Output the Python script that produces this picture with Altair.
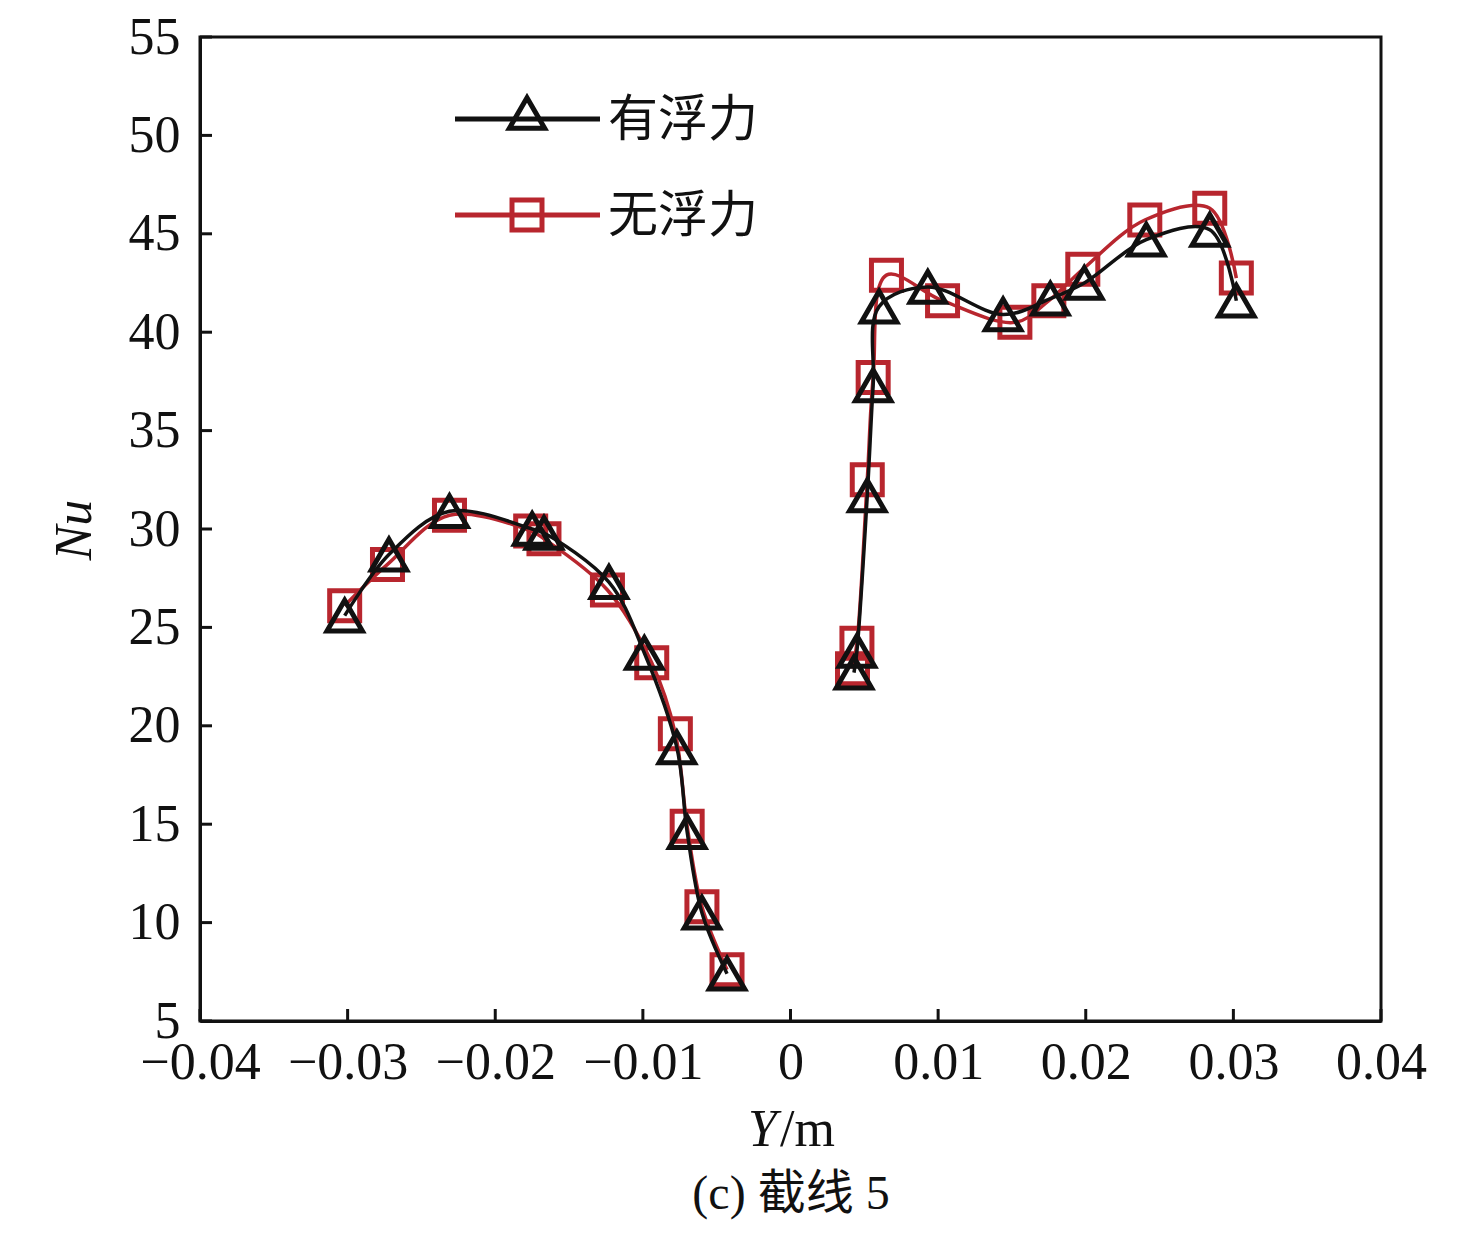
import altair as alt
import pandas as pd

# ---- data ----
series_names = ["有浮力", "无浮力"]

# 有浮力 (black, triangles)
left_x_b = [-0.0302, -0.0272, -0.0231, -0.0175, -0.0167, -0.0123, -0.0099, -0.0077, -0.0070, -0.0060, -0.0043]
left_y_b = [25.6, 28.7, 30.9, 30.0, 29.8, 27.3, 23.7, 18.9, 14.6, 10.5, 7.4]
right_x_b = [0.0043, 0.0045, 0.0052, 0.0056, 0.0060, 0.0093, 0.0144, 0.0176, 0.0199, 0.0241, 0.0284, 0.0302]
right_y_b = [22.7, 23.8, 31.7, 37.3, 41.3, 42.3, 40.9, 41.7, 42.5, 44.7, 45.2, 41.6]

# 无浮力 (red, squares)
left_x_r = [-0.0302, -0.0273, -0.0231, -0.0176, -0.0167, -0.0124, -0.0094, -0.0078, -0.0070, -0.0060, -0.0043]
left_y_r = [26.1, 28.2, 30.7, 29.9, 29.5, 26.9, 23.2, 19.6, 14.9, 10.8, 7.6]
right_x_r = [0.0042, 0.0045, 0.0052, 0.0056, 0.0065, 0.0103, 0.0152, 0.0175, 0.0198, 0.0240, 0.0284, 0.0302]
right_y_r = [22.9, 24.2, 32.5, 37.7, 42.9, 41.6, 40.5, 41.6, 43.2, 45.7, 46.3, 42.75]

x_ticks = [-0.04, -0.03, -0.02, -0.01, 0, 0.01, 0.02, 0.03, 0.04]
y_ticks = [5, 10, 15, 20, 25, 30, 35, 40, 45, 50, 55]

BLACK = "#111111"
RED = "#b8262e"
FONT = "Liberation Serif, Times New Roman, Noto Sans CJK SC"
CJK = "Noto Sans CJK SC, Liberation Serif"

def frame(xs, ys, seg):
    return pd.DataFrame({"x": xs, "y": ys, "seg": seg})

df_b = pd.concat([frame(left_x_b, left_y_b, "L"), frame(right_x_b, right_y_b, "R")])
df_r = pd.concat([frame(left_x_r, left_y_r, "L"), frame(right_x_r, right_y_r, "R")])

W, H = 1181, 984

xscale = alt.Scale(domain=[-0.04, 0.04], nice=False, zero=False)
yscale = alt.Scale(domain=[5, 55], nice=False, zero=False)

xax = alt.Axis(values=x_ticks, format=".2~f", title=None, grid=False, ticks=False,
               labelFontSize=52, labelFont=FONT, labelColor="#111", labelPadding=16,
               domainColor=BLACK, domainWidth=3, labelFlush=False)
yax = alt.Axis(values=y_ticks, title=None, grid=False, ticks=False,
               labelFontSize=52, labelFont=FONT, labelColor="#111", labelPadding=20,
               domainColor=BLACK, domainWidth=3, labelFlush=False)

X = alt.X("x:Q", scale=xscale, axis=xax)
Y = alt.Y("y:Q", scale=yscale, axis=yax)

red_line = alt.Chart(df_r).mark_line(color=RED, strokeWidth=3.5, interpolate="catmull-rom").encode(
    x=X, y=Y, detail="seg:N")
red_pts = alt.Chart(df_r).mark_point(shape="square", size=900, filled=False, color=RED,
                                     strokeWidth=5, opacity=1).encode(x=X, y=Y)
black_line = alt.Chart(df_b).mark_line(color=BLACK, strokeWidth=3.5, interpolate="catmull-rom").encode(
    x=X, y=Y, detail="seg:N")
black_pts = alt.Chart(df_b).mark_point(shape="triangle-up", size=1250, filled=False, color=BLACK,
                                       strokeWidth=5, opacity=1).encode(x=X, y=Y)

# inside ticks
xt = pd.DataFrame({"x": x_ticks})
yt = pd.DataFrame({"y": y_ticks})
xticks = alt.Chart(xt).mark_rule(color=BLACK, strokeWidth=3).encode(
    x=X, y=alt.value(H), y2=alt.value(H - 12))
yticks = alt.Chart(yt).mark_rule(color=BLACK, strokeWidth=3).encode(
    y=Y, x=alt.value(0), x2=alt.value(12))

# legend
leg_b_line = alt.Chart().mark_rule(color=BLACK, strokeWidth=5).encode(
    x=alt.value(255), x2=alt.value(400), y=alt.value(82))
leg_b_pt = alt.Chart().mark_point(shape="triangle-up", size=1250, filled=False, color=BLACK,
                                  strokeWidth=5, opacity=1).encode(x=alt.value(327), y=alt.value(76))
leg_b_txt = alt.Chart().mark_text(text=series_names[0], font=CJK, fontSize=50, align="left",
                                  baseline="middle", color="#111").encode(x=alt.value(408), y=alt.value(84))
leg_r_line = alt.Chart().mark_rule(color=RED, strokeWidth=5).encode(
    x=alt.value(255), x2=alt.value(400), y=alt.value(178))
leg_r_pt = alt.Chart().mark_point(shape="square", size=900, filled=False, color=RED,
                                  strokeWidth=5, opacity=1).encode(x=alt.value(327), y=alt.value(178))
leg_r_txt = alt.Chart().mark_text(text=series_names[1], font=CJK, fontSize=50, align="left",
                                  baseline="middle", color="#111").encode(x=alt.value(408), y=alt.value(180))

# axis titles and caption
y_title = alt.Chart().mark_text(text="Nu", font=FONT, fontSize=52, fontStyle="italic", angle=270,
                                align="center", baseline="middle", color="#111").encode(
    x=alt.value(-125), y=alt.value(493))
x_title_a = alt.Chart().mark_text(text="Y", font=FONT, fontSize=52, fontStyle="italic",
                                  align="left", baseline="middle", color="#111").encode(
    x=alt.value(548), y=alt.value(1093))
x_title_b = alt.Chart().mark_text(text="/m", font=FONT, fontSize=52,
                                  align="left", baseline="middle", color="#111").encode(
    x=alt.value(580), y=alt.value(1093))
caption = alt.Chart().mark_text(text="(c) 截线 5", font=FONT, fontSize=48,
                                align="center", baseline="middle", color="#111").encode(
    x=alt.value(591), y=alt.value(1158))

chart = alt.layer(
    red_line, red_pts, black_line, black_pts, xticks, yticks,
    leg_b_line, leg_b_pt, leg_b_txt, leg_r_line, leg_r_pt, leg_r_txt,
    y_title, x_title_a, x_title_b, caption,
).properties(
    width=W, height=H,
    background="white",
    autosize=alt.AutoSizeParams(type="none"),
    padding={"left": 192, "top": 29, "right": 87, "bottom": 209},
).configure_view(stroke=BLACK, strokeWidth=3)

chart.save("out.html", embed_options={"renderer": "svg", "actions": False})
